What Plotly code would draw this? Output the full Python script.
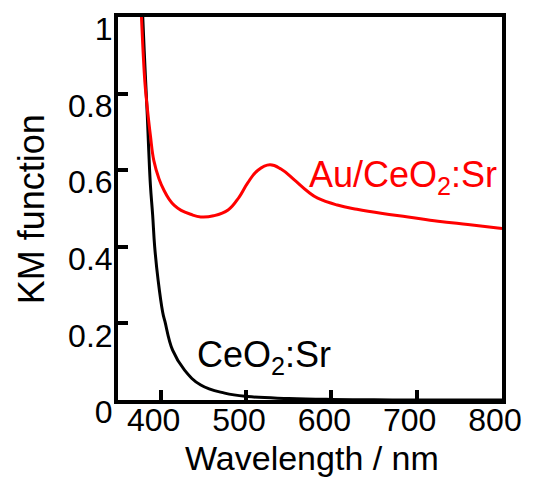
import plotly.graph_objects as go

# CeO2:Sr (black)
wl_ceo2 = [372, 376, 379, 382, 384.3, 386, 388, 390.6, 393, 397, 402.3, 405, 414, 428, 447, 475, 502, 550, 600, 650, 700, 800]
km_ceo2 = [1.5, 1.18, 1.0, 0.85, 0.744, 0.653, 0.56, 0.483, 0.40, 0.313, 0.23, 0.205, 0.13, 0.078, 0.039, 0.018, 0.009, 0.004, 0.0015, 0.0005, 0.0, 0.0]

# Au/CeO2:Sr (red)
wl_au = [372, 375, 377.5, 381.5, 384, 388, 392, 398, 404, 410, 416, 424, 435, 447, 462, 479, 492, 502, 514, 528, 541, 557, 572, 584, 607, 630, 660, 690, 725, 760, 795, 800]
km_au = [1.45, 1.15, 1.0, 0.83, 0.77, 0.69, 0.625, 0.578, 0.547, 0.524, 0.508, 0.495, 0.485, 0.478, 0.481, 0.496, 0.53, 0.567, 0.6, 0.614, 0.603, 0.574, 0.545, 0.527, 0.509, 0.498, 0.487, 0.478, 0.467, 0.458, 0.449, 0.448]

x_ticks = [400, 500, 600, 700, 800]
y_ticks = [0, 0.2, 0.4, 0.6, 0.8, 1]
y_labels = ["0", "0.2", "0.4", "0.6", "0.8", "1"]

FONT = "Liberation Sans, Arial, sans-serif"

fig = go.Figure()
fig.add_trace(go.Scatter(x=wl_ceo2, y=km_ceo2, mode="lines",
                         line=dict(color="black", width=3, shape="spline", smoothing=1.2),
                         showlegend=False))
fig.add_trace(go.Scatter(x=wl_au, y=km_au, mode="lines",
                         line=dict(color="#ff0000", width=3, shape="spline", smoothing=1.2),
                         showlegend=False))

fig.add_annotation(x=0.741, y=0.582, xref="paper", yref="paper", xanchor="center", yanchor="middle",
                   text="Au/CeO<sub>2</sub>:Sr", showarrow=False,
                   font=dict(family=FONT, size=36, color="#ff0000"))
fig.add_annotation(x=0.380, y=0.112, xref="paper", yref="paper", xanchor="center", yanchor="middle",
                   text="CeO<sub>2</sub>:Sr", showarrow=False,
                   font=dict(family=FONT, size=36, color="black"))

# axis titles
fig.add_annotation(x=0.506, y=-0.152, xref="paper", yref="paper", xanchor="center", yanchor="middle",
                   text="Wavelength / nm", showarrow=False,
                   font=dict(family=FONT, size=34, color="black"))
fig.add_annotation(x=-0.2266, y=0.498, xref="paper", yref="paper", xanchor="center", yanchor="middle",
                   text="KM function", textangle=-90, showarrow=False,
                   font=dict(family=FONT, size=36, color="black"))

fig.update_layout(
    width=536, height=478,
    margin=dict(l=110, r=42, t=9, b=86),
    paper_bgcolor="white", plot_bgcolor="white",
    font=dict(family=FONT, color="black"),
    xaxis=dict(range=[350, 800], tickvals=x_ticks, ticks="inside", ticklen=10, tickwidth=4,
               tickcolor="black", showline=True, linewidth=4, linecolor="black", mirror=True,
               showgrid=False, zeroline=False, tickfont=dict(size=32), automargin=False,
               ticklabelshift=-7, ticklabelstandoff=-11, ticklabeloverflow="allow"),
    yaxis=dict(range=[0, 1], tickvals=y_ticks, ticktext=y_labels, ticks="inside", ticklen=10,
               tickwidth=4, tickcolor="black", showline=True, linewidth=4, linecolor="black",
               mirror=True, showgrid=False, zeroline=False, tickfont=dict(size=32), automargin=False,
               ticklabelshift=12, ticklabelstandoff=-5, ticklabeloverflow="allow"),
)

fig.write_html("out.html")
